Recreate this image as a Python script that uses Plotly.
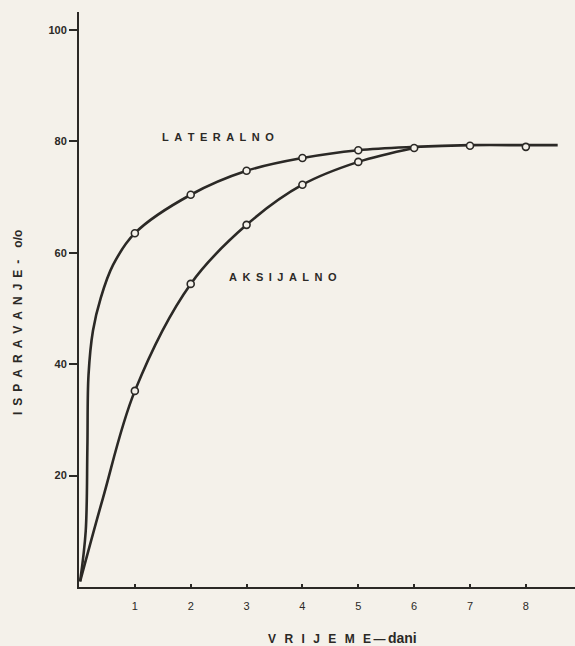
import plotly.graph_objects as go

# Measured points (circles)
days = [1, 2, 3, 4, 5, 6, 7, 8]
lateralno_pts = [63.5, 70.4, 74.7, 77.0, 78.4, 78.8, 79.2, 79.0]
aksijalno_days = [1, 2, 3, 4, 5]
aksijalno_pts = [35.2, 54.4, 65.0, 72.2, 76.3]

# Hand-drawn smooth curves
lat_curve_x = [0.02, 0.12, 0.15, 0.17, 0.25, 0.39, 0.61, 1.0, 2.0, 3.0, 4.0, 5.0, 6.0, 7.0, 8.0, 8.57]
lat_curve_y = [1.0, 10.0, 25.0, 38.0, 46.0, 51.9, 57.8, 63.5, 70.4, 74.7, 77.0, 78.4, 79.0, 79.3, 79.3, 79.3]
aks_curve_x = [0.02, 0.43, 1.0, 2.0, 3.0, 4.0, 5.0, 6.0]
aks_curve_y = [1.0, 16.0, 35.2, 54.4, 65.0, 72.2, 76.3, 78.8]

x_ticks = [1, 2, 3, 4, 5, 6, 7, 8]
y_ticks = [20, 40, 60, 80, 100]

ink = "#2b2926"
paper = "#f4f1ea"
font_fam = "Liberation Sans, Arial"
sp = "\u2002"

fig = go.Figure()
for cx, cy in [(lat_curve_x, lat_curve_y), (aks_curve_x, aks_curve_y)]:
    fig.add_trace(go.Scatter(x=cx, y=cy, mode="lines",
                             line=dict(color=ink, width=2.6, shape="spline", smoothing=1.0),
                             hoverinfo="skip", showlegend=False))
for px, py in [(days, lateralno_pts), (aksijalno_days, aksijalno_pts)]:
    fig.add_trace(go.Scatter(x=px, y=py, mode="markers",
                             marker=dict(symbol="circle", size=7, color=paper,
                                         line=dict(color=ink, width=1.6)),
                             showlegend=False))

fig.add_annotation(x=2.49, y=80.8, text="<b>" + sp.join("LATERALNO") + "</b>", showarrow=False,
                   font=dict(family=font_fam, size=11, color=ink))
fig.add_annotation(x=3.65, y=55.7, text="<b>" + sp.join("AKSIJALNO") + "</b>", showarrow=False,
                   font=dict(family=font_fam, size=11, color=ink))

fig.add_annotation(xref="paper", yref="paper", x=-0.124, y=0.46, xanchor="center", yanchor="middle",
                   text="<b>" + sp.join("ISPARAVANJE") + sp + "-" + sp + sp + "o/o</b>",
                   textangle=-90, showarrow=False,
                   font=dict(family=font_fam, size=12, color=ink))
fig.add_annotation(xref="paper", yref="paper", x=0.531, y=-0.0887, xanchor="center", yanchor="middle",
                   text="<b>" + "\u2002\u2009".join("VRIJEME") + "\u2009\u2014\u2009<span style='font-size:14px'>dani</span></b>",
                   showarrow=False,
                   font=dict(family=font_fam, size=12, color=ink))

fig.update_xaxes(range=[0, 8.88], tickvals=x_ticks, ticktext=[str(v) for v in x_ticks],
                 ticks="inside", ticklen=3, tickwidth=1.5, tickcolor=ink, ticklabelstandoff=8,
                 showline=True, linecolor=ink, linewidth=2, showgrid=False, zeroline=False,
                 tickfont=dict(family=font_fam, size=11, color=ink))
fig.update_yaxes(range=[0, 103.2], tickvals=y_ticks, ticktext=["<b>%d</b>" % v for v in y_ticks],
                 ticks="outside", ticklen=8, tickwidth=1.5, tickcolor=ink,
                 showline=True, linecolor=ink, linewidth=2, showgrid=False, zeroline=False,
                 tickfont=dict(family=font_fam, size=11, color=ink))

fig.update_layout(width=575, height=646, margin=dict(l=79, r=0, t=12, b=59),
                  paper_bgcolor=paper, plot_bgcolor=paper)
fig.write_html("out.html", config={"displayModeBar": False},
               post_script="document.body.style.margin='0';document.body.style.background='%s';" % paper)
